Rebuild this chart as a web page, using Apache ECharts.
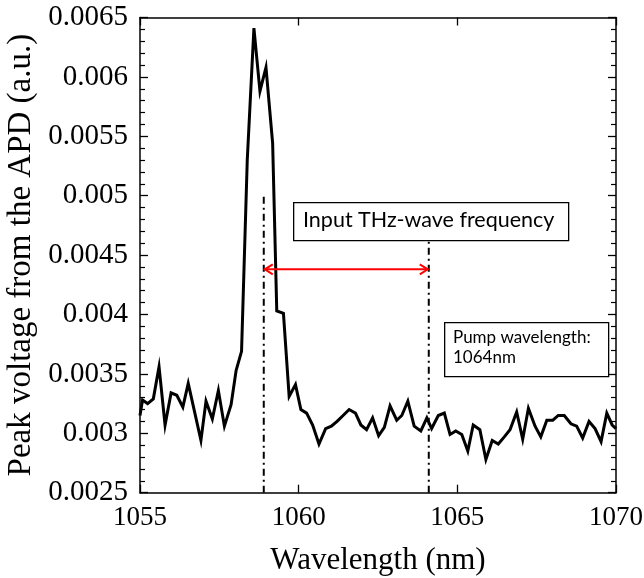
<!DOCTYPE html>
<html>
<head>
<meta charset="utf-8">
<script src="https://cdn.jsdelivr.net/npm/echarts@6/dist/echarts.min.js"></script>
<style>
html,body{margin:0;padding:0;background:#fff;}
#chart{width:644px;height:578px;}
</style>
</head>
<body>
<div id="chart"></div>
<script>
// ---- data ----
const wavelengths = [
  1055.00,1055.08,1055.24,1055.42,1055.60,1055.79,1055.98,1056.16,1056.35,1056.52,
  1056.72,1056.92,1057.08,1057.28,1057.47,1057.66,1057.87,1058.03,1058.20,1058.38,
  1058.59,1058.78,1058.97,1059.18,1059.31,1059.52,1059.70,1059.90,1060.07,1060.25,
  1060.44,1060.64,1060.85,1061.03,1061.21,1061.40,1061.59,1061.79,1061.96,1062.14,
  1062.33,1062.52,1062.70,1062.88,1063.09,1063.25,1063.44,1063.64,1063.85,1064.04,
  1064.19,1064.40,1064.59,1064.77,1064.95,1065.14,1065.33,1065.50,1065.71,1065.90,
  1066.10,1066.29,1066.48,1066.66,1066.87,1067.06,1067.24,1067.45,1067.63,1067.82,
  1068.01,1068.18,1068.37,1068.58,1068.76,1068.95,1069.15,1069.34,1069.53,1069.71,
  1069.88,1070.00
];
const peakVoltage = [
  0.00315,0.00328,0.00325,0.00329,0.00356,0.00307,0.00334,0.00332,0.00322,0.00342,
  0.00318,0.00294,0.00327,0.00312,0.00336,0.00306,0.00324,0.00353,0.00369,0.00530,
  0.00641,0.00588,0.00608,0.00544,0.00403,0.00401,0.00331,0.00341,0.00320,0.00317,
  0.00307,0.00291,0.00304,0.00306,0.00310,0.00315,0.00320,0.00317,0.00307,0.00303,
  0.00313,0.00298,0.00305,0.00323,0.00311,0.00315,0.00327,0.00306,0.00302,0.00313,
  0.00304,0.00315,0.00317,0.00299,0.00302,0.00299,0.00285,0.00307,0.00303,0.00278,
  0.00294,0.00291,0.00297,0.00303,0.00318,0.00295,0.00321,0.00306,0.00297,0.00311,
  0.00311,0.00315,0.00315,0.00308,0.00306,0.00296,0.00310,0.00304,0.00293,0.00317,
  0.00307,0.00304
];
const xTickLabels = ['1055','1060','1065','1070'];
const yTickLabels = ['0.0025','0.003','0.0035','0.004','0.0045','0.005','0.0055','0.006','0.0065'];
// annotation lines: [wavelength, top value]
const markerLines = [[1058.9, 0.00502], [1064.1, 0.00463]];
const arrowSpan = [1058.9, 1064.1];
const arrowLevel = 0.00438;
const boxTexts = ['Input THz-wave frequency', 'Pump wavelength:\n1064nm'];

const X_MIN = 1055, X_MAX = 1070, X_INT = 5;
const Y_MIN = 0.0025, Y_MAX = 0.0065, Y_INT = 0.0005;

function yLabel(v){
  const i = Math.round((v - Y_MIN)/Y_INT);
  return yTickLabels[i] !== undefined ? yTickLabels[i] : '';
}
function xLabel(v){
  const i = Math.round((v - X_MIN)/X_INT);
  return xTickLabels[i] !== undefined ? xTickLabels[i] : '';
}

const serif = 'Liberation Serif';
const axisLine = {show:true, lineStyle:{color:'#000', width:1.5}};

const chart = echarts.init(document.getElementById('chart'), null, {renderer:'canvas'});

const option = {
  animation:false,
  backgroundColor:'#fff',
  grid:{left:140, top:17.5, right:28, bottom:85.3, containLabel:false, outerBoundsMode:'none'},
  xAxis:[
    {
      type:'value', position:'bottom', min:X_MIN, max:X_MAX, interval:X_INT,
      axisLine:axisLine,
      axisTick:{show:true, inside:true, length:8, lineStyle:{color:'#000', width:1.3}},
      axisLabel:{show:true, margin:12, color:'#000', fontFamily:serif, fontSize:27, formatter:xLabel},
      splitLine:{show:false},
      name:'Wavelength (nm)', nameLocation:'middle', nameGap:53,
      nameTextStyle:{color:'#000', fontFamily:serif, fontSize:31}
    },
    {
      type:'value', position:'top', min:X_MIN, max:X_MAX, interval:X_INT,
      axisLine:axisLine,
      axisTick:{show:true, inside:true, length:8, lineStyle:{color:'#000', width:1.3}},
      axisLabel:{show:false}, splitLine:{show:false}
    }
  ],
  yAxis:[
    {
      type:'value', position:'left', min:Y_MIN, max:Y_MAX, interval:Y_INT,
      axisLine:axisLine,
      axisTick:{show:true, inside:true, length:8, lineStyle:{color:'#000', width:1.3}},
      minorTick:{show:true, splitNumber:5, length:5, lineStyle:{color:'#000', width:1.2}},
      axisLabel:{show:true, margin:12, color:'#000', fontFamily:serif, fontSize:29, formatter:yLabel},
      splitLine:{show:false}, minorSplitLine:{show:false},
      name:'Peak voltage from the APD (a.u.)', nameLocation:'middle', nameGap:101,
      nameTextStyle:{color:'#000', fontFamily:serif, fontSize:33}
    },
    {
      type:'value', position:'right', min:Y_MIN, max:Y_MAX, interval:Y_INT,
      axisLine:axisLine,
      axisTick:{show:true, inside:true, length:8, lineStyle:{color:'#000', width:1.3}},
      minorTick:{show:true, splitNumber:5, length:5, lineStyle:{color:'#000', width:1.2}},
      axisLabel:{show:false}, splitLine:{show:false}, minorSplitLine:{show:false}
    }
  ],
  series:[
    {
      type:'line', xAxisIndex:0, yAxisIndex:0,
      data: wavelengths.map((w,i)=>[w, peakVoltage[i]]),
      showSymbol:false, symbol:'none',
      lineStyle:{color:'#000', width:3, join:'miter'},
      z:5
    },
    ...markerLines.map(m => ({
      type:'line', xAxisIndex:0, yAxisIndex:0,
      data:[[m[0], Y_MIN], [m[0], m[1]]],
      showSymbol:false, symbol:'none',
      lineStyle:{color:'#000', width:2, type:[7,4,2,4]},
      z:3
    })),
    {
      type:'custom', xAxisIndex:0, yAxisIndex:0,
      data:[[arrowSpan[0], arrowLevel, arrowSpan[1]]],
      z:6,
      renderItem:function(params, api){
        const p1 = api.coord([api.value(0), api.value(1)]);
        const p2 = api.coord([api.value(2), api.value(1)]);
        const h = 9, s = 5;
        const st = {stroke:'#ff0000', lineWidth:2, fill:null};
        return {type:'group', children:[
          {type:'line', shape:{x1:p1[0]+1, y1:p1[1], x2:p2[0]-1, y2:p2[1]}, style:st},
          {type:'polyline', shape:{points:[[p1[0]+h, p1[1]-s],[p1[0]+1, p1[1]],[p1[0]+h, p1[1]+s]]}, style:st},
          {type:'polyline', shape:{points:[[p2[0]-h, p2[1]-s],[p2[0]-1, p2[1]],[p2[0]-h, p2[1]+s]]}, style:st}
        ]};
      }
    }
  ],
  graphic:[
    {
      type:'rect', left:293, top:202, z:10,
      shape:{width:275, height:38},
      style:{fill:'#fff', stroke:'#000', lineWidth:1.3}
    },
    {
      type:'text', left:303, top:209, z:11,
      style:{text:boxTexts[0], fill:'#000', font:'21.5px Lato'}
    },
    {
      type:'rect', left:444, top:322, z:10,
      shape:{width:164, height:54},
      style:{fill:'#fff', stroke:'#000', lineWidth:1.3}
    },
    {
      type:'text', left:453, top:328, z:11,
      style:{text:boxTexts[1], fill:'#000', font:'17px Lato', lineHeight:20}
    }
  ]
};
chart.setOption(option);
</script>
</body>
</html>
